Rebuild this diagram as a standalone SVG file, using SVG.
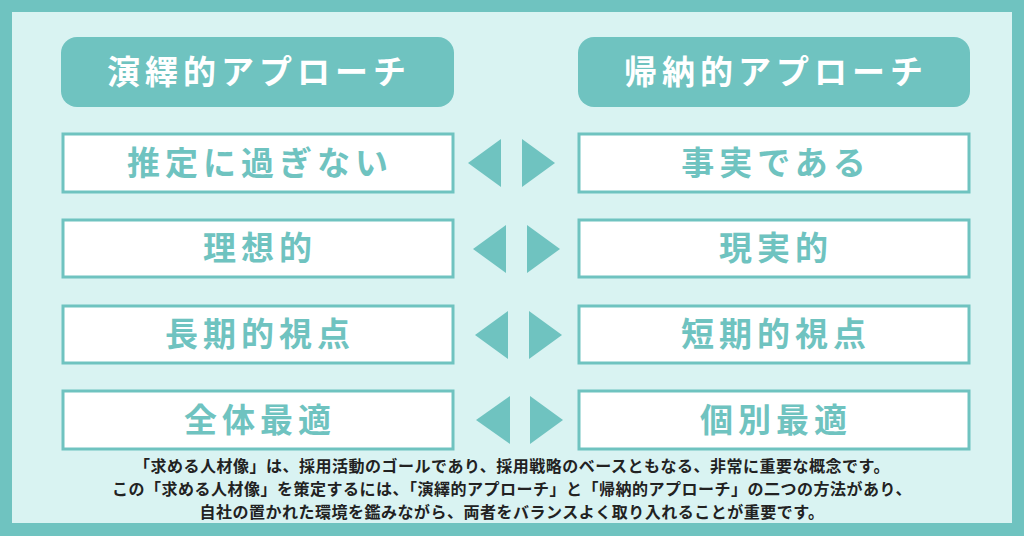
<svg xmlns="http://www.w3.org/2000/svg" width="1024" height="536" viewBox="0 0 1024 536">
<style>
.h{fill:#6fc3c0}
.ht{fill:#fff;font:bold 33px "Noto Sans CJK JP",sans-serif;letter-spacing:5px;text-anchor:middle}
.b{fill:#fff;stroke:#6fc3c0;stroke-width:3}
.bt{fill:#6fc3c0;font:bold 33px "Noto Sans CJK JP",sans-serif;letter-spacing:5px;text-anchor:middle}
.a{fill:#6fc3c0}
.n{fill:#222;font:bold 16px "Noto Sans CJK JP",sans-serif;text-anchor:middle;letter-spacing:0.5px}
</style>
<rect width="1024" height="536" fill="#6fc3c0"/>
<rect x="12" y="12" width="1000" height="511" fill="#d9f3f2"/>
<g id="hL"><rect class="h" x="61" y="37" width="393" height="70" rx="16"/><text class="ht" x="259" y="84">演繹的アプローチ</text></g>
<g id="hR"><rect class="h" x="578" y="37" width="392" height="70" rx="16"/><text class="ht" x="776" y="84">帰納的アプローチ</text></g>
<g id="l1"><rect class="b" x="63" y="134" width="390" height="58"/><text class="bt" x="260" y="175">推定に過ぎない</text></g>
<g id="r1"><rect class="b" x="579" y="134" width="390" height="58"/><text class="bt" x="776" y="175">事実である</text></g>
<g id="l2"><rect class="b" x="63" y="220" width="390" height="57"/><text class="bt" x="260" y="260">理想的</text></g>
<g id="r2"><rect class="b" x="579" y="220" width="390" height="57"/><text class="bt" x="776" y="260">現実的</text></g>
<g id="l3"><rect class="b" x="63" y="306" width="390" height="57"/><text class="bt" x="260" y="346">長期的視点</text></g>
<g id="r3"><rect class="b" x="579" y="306" width="390" height="57"/><text class="bt" x="776" y="346">短期的視点</text></g>
<g id="l4"><rect class="b" x="63" y="391" width="390" height="58"/><text class="bt" x="260" y="432">全体最適</text></g>
<g id="r4"><rect class="b" x="579" y="391" width="390" height="58"/><text class="bt" x="776" y="432">個別最適</text></g>
<g id="connectors">
<polygon class="a" points="501,139 501,187 468,163"/><polygon class="a" points="522,139 522,187 555,163"/>
<polygon class="a" points="506,225 506,273 473,249"/><polygon class="a" points="527,225 527,273 560,249"/>
<polygon class="a" points="508,311 508,359 475,335"/><polygon class="a" points="529,311 529,359 562,335"/>
<polygon class="a" points="510,396 510,444 476,420"/><polygon class="a" points="530,396 530,444 563,420"/>
</g>
<text class="n" x="512" y="472">「求める人材像」は、採用活動のゴールであり、採用戦略のベースともなる、非常に重要な概念です。</text>
<text class="n" x="512" y="495">この「求める人材像」を策定するには、「演繹的アプローチ」と「帰納的アプローチ」の二つの方法があり、</text>
<text class="n" x="512" y="518">自社の置かれた環境を鑑みながら、両者をバランスよく取り入れることが重要です。</text>
</svg>
